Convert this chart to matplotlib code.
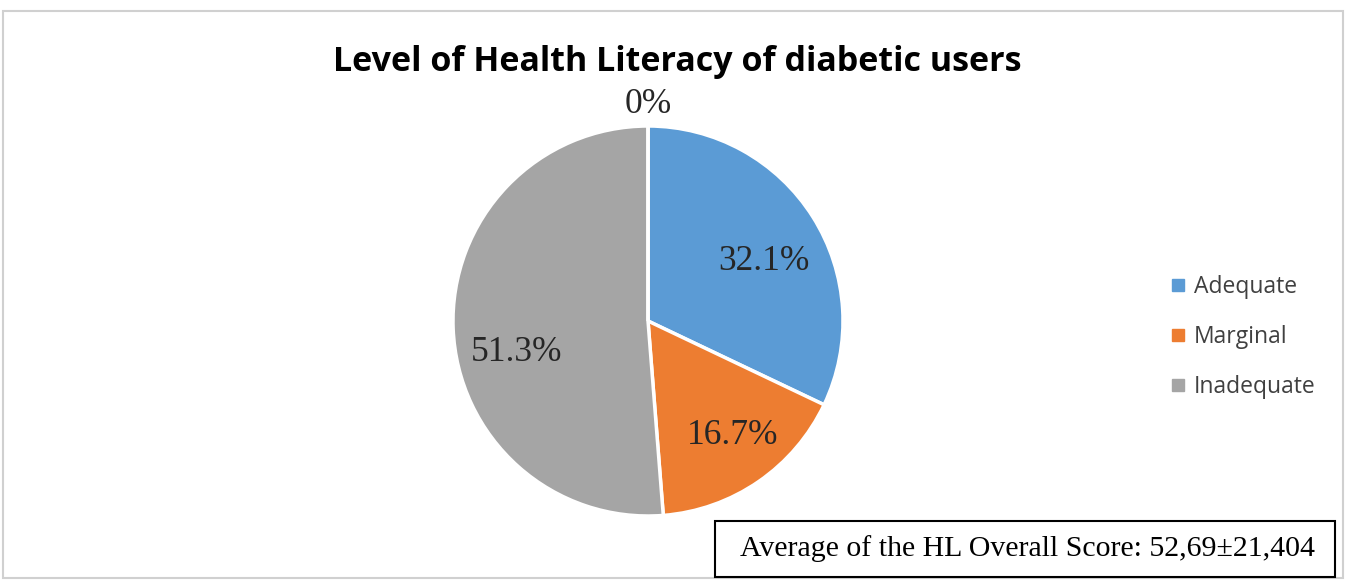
import matplotlib
matplotlib.use("Agg")
import matplotlib.pyplot as plt
import numpy as np
from matplotlib.patches import Rectangle
from matplotlib.lines import Line2D

# data
categories = ["Adequate", "Marginal", "Inadequate", ""]
values = [32.1, 16.7, 51.3, 0.0]
pct_labels = ["32.1%", "16.7%", "51.3%", "0%"]
colors = ["#5B9BD5", "#ED7D31", "#A5A5A5", "#FFC000"]
title = "Level of Health Literacy of diabetic users"
note = "Average of the HL Overall Score: 52,69\u00b121,404"

W, H = 1346, 582
fig = plt.figure(figsize=(W / 100, H / 100), dpi=100)

# light outer frame
fig.patches.append(Rectangle((3 / W, 4 / H), 1340 / W, 567 / H, transform=fig.transFigure,
                             fill=False, edgecolor="#D0D0D0", lw=1.5))

cx, cy, R = 648, 321, 195
ax = fig.add_axes([(cx - R) / W, (H - cy - R) / H, 2 * R / W, 2 * R / H])
wedges, _ = ax.pie(values, colors=colors, startangle=90, counterclock=False,
                   wedgeprops=dict(edgecolor="white", linewidth=2.5))
ax.set_xlim(-1, 1)
ax.set_ylim(-1, 1)
ax.axis("off")

# percentage labels (excel "best fit" placement: small angle nudges)
total = sum(values)
start = 90.0
dists = [0.67, 0.73, 0.695, 1.11]
nudges = [-5, 2, 11, 0]
for v, lab, d, nd in zip(values, pct_labels, dists, nudges):
    sweep = v / total * 360
    mid = np.deg2rad(start - sweep / 2 + nd)
    ax.text(d * np.cos(mid), d * np.sin(mid), lab, ha="center", va="center",
            fontsize=25.5, family="Liberation Serif", color="#262626")
    start -= sweep

fig.text(677 / W, 1 - 62 / H, title, ha="center", va="center",
         fontsize=24.5, fontweight="bold", family="Open Sans", color="black")

handles = [Line2D([], [], marker="s", ls="", markersize=8, color=c) for c in colors[:3]]
fig.legend(handles, categories[:3], loc="center left", bbox_to_anchor=(1150 / W, 1 - 337 / H),
           frameon=False, handlelength=0.6, handletextpad=0.4, labelspacing=1.12,
           prop=dict(family="Open Sans", size=16.5), labelcolor="#404040")

fig.patches.append(Rectangle((715 / W, 5 / H), 620 / W, 56 / H, transform=fig.transFigure,
                             fill=False, edgecolor="black", lw=1.5))
fig.text(1027 / W, 1 - 549 / H, note, ha="center", va="center",
         fontsize=21.5, family="Liberation Serif", color="black")

fig.savefig("out.png", dpi=100, facecolor="white")
